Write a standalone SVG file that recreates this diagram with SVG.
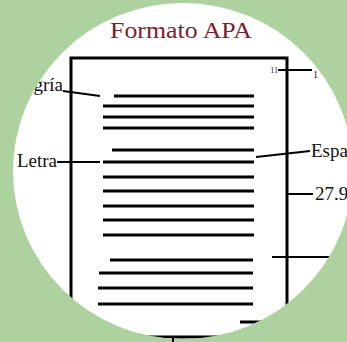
<svg xmlns="http://www.w3.org/2000/svg" width="347" height="342" viewBox="0 0 347 342">
<style>
.ln{stroke:#000;stroke-width:3}
.cn{stroke:#000;stroke-width:2;fill:none}
.lbl{font-family:"Liberation Serif","Times New Roman",serif;font-size:19px;fill:#111}
.ttl{font-family:"Liberation Serif","Times New Roman",serif;font-size:23px;fill:#7b1e2c}
.sm{font-family:"Liberation Serif","Times New Roman",serif;fill:#222}
</style>
<defs><clipPath id="c"><ellipse cx="183" cy="171" rx="170" ry="168"/></clipPath></defs>
<rect width="347" height="342" fill="#aed1a0"/>
<ellipse cx="183" cy="171" rx="170" ry="168" fill="#fff"/>
<g clip-path="url(#c)">
  <g id="title"><text class="ttl" x="181" y="38" text-anchor="middle" textLength="142" lengthAdjust="spacingAndGlyphs">Formato APA</text></g>
  <g id="page">
    <path d="M71 305 V58 H287 V315" fill="none" stroke="#000" stroke-width="3"/>
    <line class="ln" x1="114" y1="96" x2="254" y2="96"/>
    <line class="ln" x1="103" y1="106" x2="254" y2="106"/>
    <line class="ln" x1="103" y1="117" x2="254" y2="117"/>
    <line class="ln" x1="103" y1="128" x2="254" y2="128"/>
    <line class="ln" x1="112" y1="150" x2="254" y2="150"/>
    <line class="ln" x1="103" y1="162" x2="254" y2="162"/>
    <line class="ln" x1="103" y1="177" x2="254" y2="177"/>
    <line class="ln" x1="103" y1="191" x2="254" y2="191"/>
    <line class="ln" x1="103" y1="206" x2="254" y2="206"/>
    <line class="ln" x1="103" y1="220" x2="254" y2="220"/>
    <line class="ln" x1="103" y1="235" x2="254" y2="235"/>
    <line class="ln" x1="110" y1="260" x2="253" y2="260"/>
    <line class="ln" x1="99" y1="273" x2="253" y2="273"/>
    <line class="ln" x1="98" y1="288" x2="253" y2="288"/>
    <line class="ln" x1="98" y1="304" x2="253" y2="304"/>
    <text class="sm" x="278" y="73" text-anchor="end" font-size="8">11</text>
  </g>
  <g id="connectors">
    <line class="cn" x1="278" y1="70" x2="312" y2="70"/>
    <line class="cn" x1="63" y1="91" x2="100" y2="96"/>
    <line class="cn" x1="57" y1="162" x2="100" y2="162"/>
    <line class="cn" x1="256" y1="157" x2="310" y2="151"/>
    <line class="cn" x1="287" y1="194" x2="313" y2="194"/>
    <line class="cn" x1="272" y1="257" x2="335" y2="257"/>
    <line class="ln" x1="240" y1="322" x2="300" y2="322"/>
    <line class="ln" x1="120" y1="337" x2="250" y2="337"/>
  </g>
  <g id="label-sangria"><text class="lbl" x="63" y="91" text-anchor="end">gría</text></g>
  <g id="label-letra"><text class="lbl" x="57" y="167" text-anchor="end">Letra</text></g>
  <g id="label-espa"><text class="lbl" x="311" y="157">Espa</text></g>
  <g id="label-279"><text class="lbl" x="315" y="200" font-size="16.5">27.9</text></g>
  <g id="label-num"><text class="sm" x="313" y="78" font-size="10">1</text></g>
</g>
<line x1="173" y1="336" x2="173" y2="342" stroke="#000" stroke-width="2"/>
</svg>
